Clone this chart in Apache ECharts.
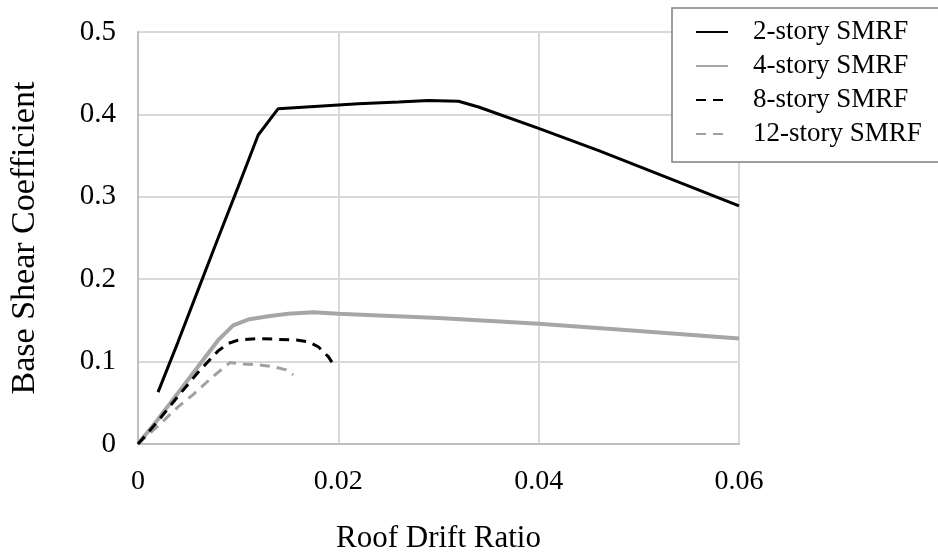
<!DOCTYPE html>
<html>
<head>
<meta charset="utf-8">
<script src="https://cdn.jsdelivr.net/npm/echarts@6/dist/echarts.min.js"></script>
<style>html,body{margin:0;padding:0;background:#fff}#c{width:938px;height:559px}</style>
</head>
<body>
<div id="c"></div>
<script>
const seriesNames = ['2-story SMRF', '4-story SMRF', '8-story SMRF', '12-story SMRF'];
const xTicks = [0, 0.02, 0.04, 0.06];
const yTicks = [0, 0.1, 0.2, 0.3, 0.4, 0.5];

const x2 = [0.002, 0.004, 0.006, 0.008, 0.010, 0.012, 0.014, 0.018, 0.022, 0.026, 0.029, 0.032, 0.034, 0.040, 0.046, 0.050, 0.055, 0.060];
const y2 = [0.063, 0.124, 0.187, 0.250, 0.312, 0.375, 0.407, 0.410, 0.413, 0.415, 0.417, 0.416, 0.409, 0.383, 0.356, 0.337, 0.313, 0.289];

const x4 = [0, 0.002, 0.004, 0.006, 0.008, 0.0095, 0.011, 0.013, 0.015, 0.0175, 0.020, 0.030, 0.040, 0.050, 0.060];
const y4 = [0, 0.030, 0.062, 0.094, 0.126, 0.144, 0.151, 0.155, 0.158, 0.160, 0.158, 0.153, 0.146, 0.137, 0.128];

const x8 = [0, 0.002, 0.004, 0.006, 0.008, 0.009, 0.010, 0.012, 0.014, 0.016, 0.017, 0.018, 0.019, 0.0197];
const y8 = [0, 0.028, 0.058, 0.087, 0.113, 0.122, 0.126, 0.128, 0.127, 0.126, 0.124, 0.118, 0.106, 0.093];

const x12 = [0, 0.002, 0.004, 0.0055, 0.0075, 0.0092, 0.0105, 0.012, 0.0135, 0.0148, 0.0155];
const y12 = [0, 0.022, 0.045, 0.060, 0.082, 0.099, 0.097, 0.096, 0.094, 0.090, 0.084];

const pairs = (xs, ys) => xs.map((x, i) => [x, ys[i]]);
const FONT = '"Liberation Serif", "Times New Roman", serif';

const chart = echarts.init(document.getElementById('c'), null, { renderer: 'canvas' });
chart.setOption({
  animation: false,
  backgroundColor: '#fff',
  grid: { left: 132, right: 199, top: 32, bottom: 108, containLabel: false },
  legend: {
    data: seriesNames,
    orient: 'vertical',
    left: 672, top: 8,
    padding: [7, 60, 11, 23],
    itemGap: 0,
    itemWidth: 32, itemHeight: 34,
    itemStyle: { opacity: 0 },
    backgroundColor: '#fff',
    borderColor: '#7f7f7f', borderWidth: 1.5,
    textStyle: { fontFamily: FONT, fontSize: 27, color: '#000', lineHeight: 34, padding: [0, 0, 0, 20] }
  },
  xAxis: {
    type: 'value', min: xTicks[0], max: xTicks[xTicks.length - 1], interval: 0.02,
    name: 'Roof Drift Ratio', nameLocation: 'middle', nameGap: 79,
    nameTextStyle: { fontFamily: FONT, fontSize: 31, color: '#000' },
    axisLine: { show: true, lineStyle: { color: '#bfbfbf', width: 2 } },
    axisTick: { show: false },
    axisLabel: { fontFamily: FONT, fontSize: 28, color: '#000', margin: 24,
      formatter: v => String(parseFloat(v.toFixed(4))) },
    splitLine: { show: true, lineStyle: { color: '#d9d9d9', width: 2 } }
  },
  yAxis: {
    type: 'value', min: yTicks[0], max: yTicks[yTicks.length - 1], interval: 0.1,
    name: 'Base Shear Coefficient', nameLocation: 'middle', nameGap: 96, nameRotate: 90,
    nameTextStyle: { fontFamily: FONT, fontSize: 34, color: '#000' },
    axisLine: { show: true, lineStyle: { color: '#bfbfbf', width: 2 } },
    axisTick: { show: false },
    axisLabel: { fontFamily: FONT, fontSize: 29, color: '#000', margin: 22,
      formatter: v => String(parseFloat(v.toFixed(4))) },
    splitLine: { show: true, lineStyle: { color: '#d9d9d9', width: 2 } }
  },
  series: [
    { name: seriesNames[1], type: 'line', data: pairs(x4, y4), symbol: 'none', z: 2,
      lineStyle: { color: '#a6a6a6', width: 4 }, itemStyle: { color: '#a6a6a6' } },
    { name: seriesNames[3], type: 'line', data: pairs(x12, y12), symbol: 'none', z: 3,
      lineStyle: { color: '#a0a0a0', width: 3, type: [10, 7] }, itemStyle: { color: '#a0a0a0' } },
    { name: seriesNames[2], type: 'line', data: pairs(x8, y8), symbol: 'none', z: 4,
      lineStyle: { color: '#000', width: 3, type: [10, 7] }, itemStyle: { color: '#000' } },
    { name: seriesNames[0], type: 'line', data: pairs(x2, y2), symbol: 'none', z: 5,
      lineStyle: { color: '#000', width: 3 }, itemStyle: { color: '#000' } }
  ]
});
</script>
</body>
</html>
